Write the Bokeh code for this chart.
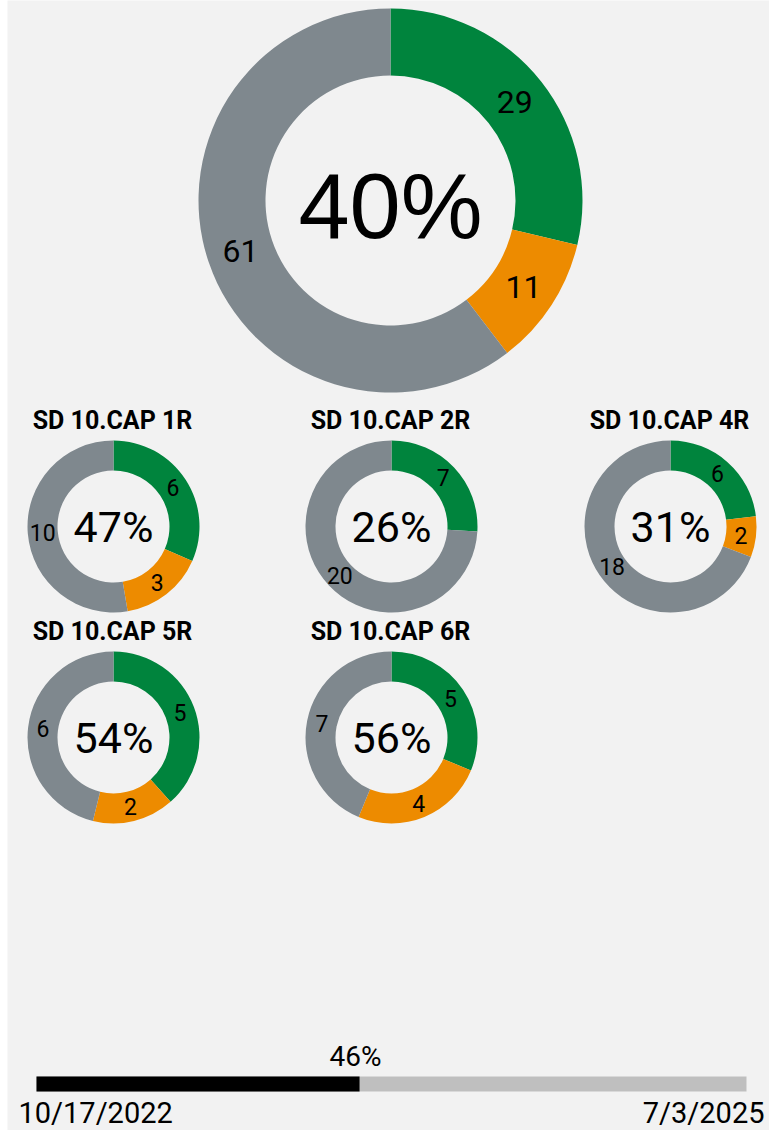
import math
from bokeh.plotting import figure
from bokeh.models import Range1d
from bokeh.embed import file_html
from bokeh.resources import INLINE
from bokeh.core.properties import value

# ---------------- data ----------------
categories = ["Green", "Orange", "Gray"]
total_values = [29, 11, 61]
site_names = ["SD 10.CAP 1R", "SD 10.CAP 2R", "SD 10.CAP 4R", "SD 10.CAP 5R", "SD 10.CAP 6R"]
site_green = [6, 7, 6, 5, 5]
site_orange = [3, 0, 2, 2, 4]
site_gray = [10, 20, 18, 6, 7]
start_date = "10/17/2022"
end_date = "7/3/2025"
progress_pct = 45.5

# ---------------- style ----------------
COLORS = ["#00843d", "#ed8b00", "#7f888e"]
BG = "#f2f2f2"
FONT = value("Roboto")
W, H = 769, 1130
LEFT = 7


def X(px):
    return px


def Y(py):
    return H - py


p = figure(width=W, height=H, x_range=Range1d(LEFT, W), y_range=Range1d(0, H),
           output_backend="svg", toolbar_location=None, min_border=0,
           min_border_left=LEFT, x_axis_type=None, y_axis_type=None)
p.grid.visible = False
p.outline_line_color = None
p.background_fill_color = BG
p.border_fill_color = "white"


def label(x, y, txt, size, align="center", style="normal", font=FONT):
    p.text(x=x, y=y, text=txt, text_font=font, text_font_size=size,
           text_align=align, text_baseline="middle", text_color="black",
           text_font_style=style)


def donut(cx, cy, r_in, r_out, vals, lab_size):
    total = sum(vals)
    cum = 0
    starts, ends, cols, lx, ly, lt = [], [], [], [], [], []
    rm = (r_in + r_out) / 2
    for v, c in zip(vals, COLORS):
        if v == 0:
            continue
        t0 = cum / total * 2 * math.pi
        t1 = (cum + v) / total * 2 * math.pi
        starts.append(math.pi / 2 - t0)
        ends.append(math.pi / 2 - t1)
        cols.append(c)
        mid = (t0 + t1) / 2
        lx.append(cx + rm * math.sin(mid))
        ly.append(cy + rm * math.cos(mid))
        lt.append(str(v))
        cum += v
    p.annular_wedge(x=cx, y=cy, inner_radius=r_in, outer_radius=r_out,
                    start_angle=starts, end_angle=ends, direction="clock",
                    fill_color=cols, line_color=None)
    label(lx, ly, lt, lab_size)
    return total


# big donut
tot = donut(X(390), Y(200), 125, 192, total_values, "32px")
pct = round((total_values[0] + total_values[1]) / tot * 100)
label([X(390)], [Y(205)], [f"{pct}%"], "92px", font=value("Liberation Sans"))

# small donuts
col_x = [113, 391, 670]
row_y = [526, 737]
for i, name in enumerate(site_names):
    cx = col_x[i % 3]
    cy = row_y[i // 3]
    vals = [site_green[i], site_orange[i], site_gray[i]]
    tot = donut(X(cx), Y(cy), 56, 86, vals, "23px")
    pct = round((vals[0] + vals[1]) / tot * 100)
    label([X(cx)], [Y(cy)], [f"{pct}%"], "43px")
    label([X(cx - 1)], [Y(cy - 106)], [name], "25px", style="bold")

# progress bar
bar_l, bar_r = 36, 746
bar_t, bar_b = 1076, 1091
frac = progress_pct / 100
p.quad(left=[X(bar_l)], right=[X(bar_r)], top=[Y(bar_t)], bottom=[Y(bar_b)],
       fill_color="#bfbfbf", line_color=None)
end_x = bar_l + (bar_r - bar_l) * frac
p.quad(left=[X(bar_l)], right=[X(end_x)], top=[Y(bar_t)], bottom=[Y(bar_b)],
       fill_color="black", line_color=None)
label([X(end_x - 4)], [Y(1056)], [f"{round(progress_pct)}%"], "28px")
label([X(18)], [Y(1112)], [start_date], "29px", align="left")
label([X(764)], [Y(1112)], [end_date], "29px", align="right")

open("out.html", "w").write(file_html(p, INLINE))
